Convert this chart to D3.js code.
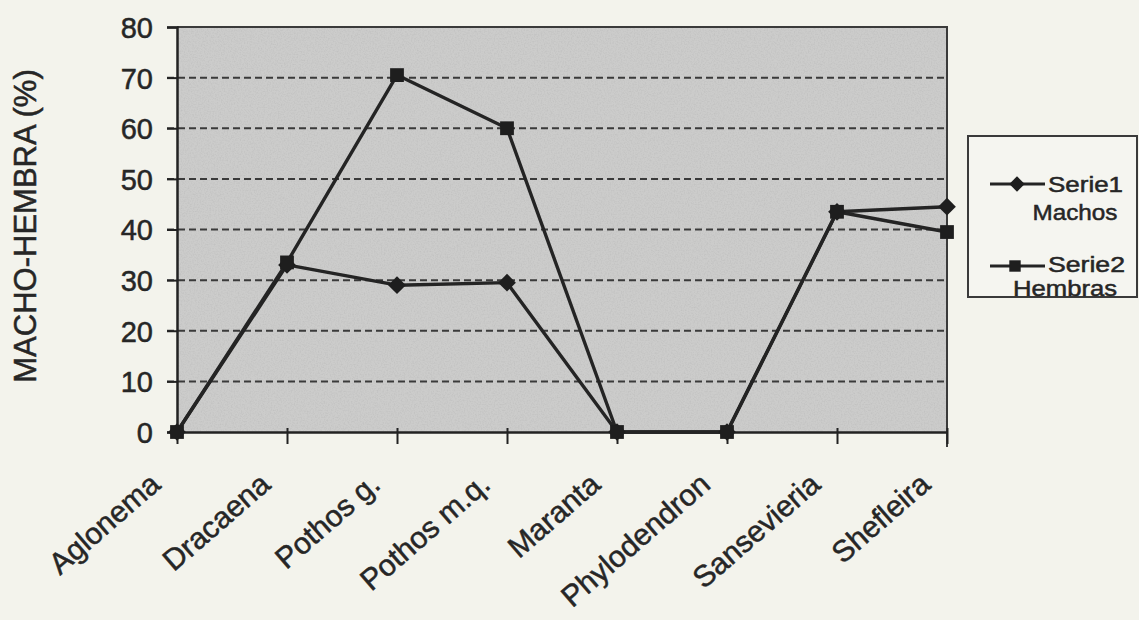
<!DOCTYPE html>
<html>
<head>
<meta charset="utf-8">
<script src="https://cdn.jsdelivr.net/npm/d3@7"></script>
<style>
  html, body { margin: 0; padding: 0; background: #f3f3ec; }
  svg { display: block; }
  text { font-family: "Liberation Sans", Arial, sans-serif; fill: #262626; stroke: #262626; stroke-width: 0.5px; }
</style>
</head>
<body>
<svg id="chart" width="1139" height="620"></svg>
<script>
const categories = ["Aglonema", "Dracaena", "Pothos g.", "Pothos m.q.", "Maranta", "Phylodendron", "Sansevieria", "Shefleira"];
const machos  = [0, 33, 29, 29.5, 0, 0, 43.5, 44.5];
const hembras = [0, 33.5, 70.5, 60, 0, 0, 43.5, 39.5];
const yTicks = [0, 10, 20, 30, 40, 50, 60, 70, 80];
const seriesNames = ["Serie1", "Serie2"];
const seriesSub = ["Machos", "Hembras"];
const yTitle = "MACHO-HEMBRA (%)";

const svg = d3.select("#chart");
const W = 1139, H = 620;
const plot = { left: 177, right: 947, top: 27, bottom: 432 };

svg.append("rect").attr("width", W).attr("height", H).attr("fill", "#f3f3ec");

// noise filter to mimic the scanned texture
const defs = svg.append("defs");
const f = defs.append("filter").attr("id", "noise").attr("x", 0).attr("y", 0).attr("width", "100%").attr("height", "100%");
f.append("feTurbulence").attr("type", "fractalNoise").attr("baseFrequency", 0.7).attr("numOctaves", 2).attr("seed", 3).attr("result", "t");
f.append("feColorMatrix").attr("type", "matrix")
  .attr("values", "0 0 0 0 0.35  0 0 0 0 0.35  0 0 0 0 0.35  1.6 0 0 0 -0.65");

const x = d3.scalePoint().domain(categories).range([plot.left, plot.right]).padding(0);
const y = d3.scaleLinear().domain([0, 80]).range([plot.bottom, plot.top]);

// plot area
svg.append("rect")
  .attr("x", plot.left).attr("y", plot.top)
  .attr("width", plot.right - plot.left).attr("height", plot.bottom - plot.top)
  .attr("fill", "#cccccb");
svg.append("rect")
  .attr("x", plot.left).attr("y", plot.top)
  .attr("width", plot.right - plot.left).attr("height", plot.bottom - plot.top)
  .attr("filter", "url(#noise)").attr("opacity", 0.3);

// gridlines
svg.append("g").selectAll("line")
  .data(yTicks.filter(d => d > 0 && d < 80))
  .join("line")
  .attr("x1", plot.left - 10).attr("x2", plot.right)
  .attr("y1", d => y(d)).attr("y2", d => y(d))
  .attr("stroke", "#3a3a3a").attr("stroke-width", 2)
  .attr("stroke-dasharray", "7,4");

// plot border top/right
svg.append("path")
  .attr("d", `M${plot.left},${plot.top}H${plot.right}V${plot.bottom + 15}`)
  .attr("fill", "none").attr("stroke", "#3a3a3a").attr("stroke-width", 2);

// y axis
const yAxis = svg.append("g").attr("transform", `translate(${plot.left},0)`)
  .call(d3.axisLeft(y).tickValues(yTicks).tickSize(10).tickPadding(14).tickFormat(d3.format("d")));
yAxis.select(".domain").attr("stroke", "#222").attr("stroke-width", 2.5);
yAxis.selectAll(".tick line").attr("stroke", "#222").attr("stroke-width", 2);
yAxis.selectAll(".tick text")
  .style("font-size", "29px").style("font-family", "'Liberation Sans', Arial, sans-serif")
  .attr("fill", "#262626").attr("dy", "0.36em");

// x axis
const xAxis = svg.append("g").attr("transform", `translate(0,${plot.bottom})`)
  .call(d3.axisBottom(x).tickSize(12).tickSizeOuter(0).tickFormat(""));
xAxis.select(".domain").attr("stroke", "#222").attr("stroke-width", 2.5);
xAxis.selectAll(".tick line").attr("stroke", "#222").attr("stroke-width", 2).attr("y1", -4);

// rotated category labels
svg.append("g").selectAll("text")
  .data(categories)
  .join("text")
  .attr("transform", d => `translate(${x(d) - 15},${plot.bottom + 55}) rotate(-41)`)
  .attr("text-anchor", "end")
  .style("font-size", "30px")
  .text(d => d);

// y title
svg.append("text")
  .attr("transform", `translate(36,226) rotate(-90)`)
  .attr("text-anchor", "middle")
  .style("font-size", "31px")
  .text(yTitle);

// lines
const line = d3.line().x((d, i) => x(categories[i])).y(d => y(d));
const data = [machos, hembras];
data.forEach((s, k) => {
  svg.append("path").datum(s).attr("d", line)
    .attr("fill", "none").attr("stroke", "#242424").attr("stroke-width", 3.4)
    .attr("stroke-linejoin", "round");
});
const diamond = d3.symbol().type(d3.symbolDiamond2).size(200);
const square = d3.symbol().type(d3.symbolSquare).size(190);
svg.append("g").selectAll("path").data(machos).join("path")
  .attr("transform", (d, i) => `translate(${x(categories[i])},${y(d)})`)
  .attr("d", diamond).attr("fill", "#1e1e1e");
svg.append("g").selectAll("path").data(hembras).join("path")
  .attr("transform", (d, i) => `translate(${x(categories[i])},${y(d)})`)
  .attr("d", square).attr("fill", "#1e1e1e");

// legend
const lg = svg.append("g");
lg.append("rect").attr("x", 968).attr("y", 136).attr("width", 169).attr("height", 161)
  .attr("fill", "#f5f5f0").attr("stroke", "#3a3a3a").attr("stroke-width", 2);
const legY = [184, 266];
const legNameY = [192, 272];
const legSubX = [1075, 1065];
const legSubY = [220, 296];
const legNameLen = [75, 77];
const legSubLen = [85, 104];
[0, 1].forEach(k => {
  lg.append("line").attr("x1", 990).attr("x2", 1045).attr("y1", legY[k]).attr("y2", legY[k])
    .attr("stroke", "#242424").attr("stroke-width", 3);
  lg.append("path").attr("transform", `translate(${k === 0 ? 1017 : 1015},${legY[k]})`)
    .attr("d", k === 0 ? d3.symbol().type(d3.symbolDiamond2).size(150) : d3.symbol().type(d3.symbolSquare).size(130))
    .attr("fill", "#1e1e1e");
  lg.append("text").attr("x", 1048).attr("y", legNameY[k]).style("font-size", "22px")
    .attr("textLength", legNameLen[k]).attr("lengthAdjust", "spacingAndGlyphs").text(seriesNames[k]);
  lg.append("text").attr("x", legSubX[k]).attr("y", legSubY[k]).attr("text-anchor", "middle")
    .style("font-size", "22px")
    .attr("textLength", legSubLen[k]).attr("lengthAdjust", "spacingAndGlyphs").text(seriesSub[k]);
});
</script>
</body>
</html>
